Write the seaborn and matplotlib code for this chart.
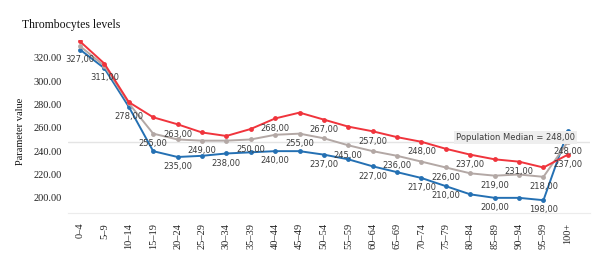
import pandas as pd
import matplotlib
matplotlib.use("Agg")
import matplotlib.pyplot as plt
import seaborn as sns

age_groups = ["0–4", "5–9", "10–14", "15–19", "20–24", "25–29", "30–34", "35–39",
              "40–44", "45–49", "50–54", "55–59", "60–64", "65–69", "70–74", "75–79",
              "80–84", "85–89", "90–94", "95–99", "100+"]

blue_values = [327, 311, 278, 240, 235, 236, 238, 239, 240, 240, 237,
               233, 227, 222, 217, 210, 203, 200, 200, 198, 257]
gray_values = [330, 313, 281, 255, 250, 249, 249, 250, 254, 255, 251,
               245, 240, 236, 231, 226, 221, 219, 220, 218, 248]
red_values = [334, 315, 282, 269, 263, 256, 253, 259, 268, 273, 267,
              261, 257, 252, 248, 242, 237, 233, 231, 226, 237]

# which points carry a value label (index into age_groups)
blue_labelled = [0, 1, 2, 4, 6, 8, 10, 12, 14, 15, 17, 19]
gray_labelled = [3, 5, 7, 9, 11, 13, 15, 17, 19, 20]
red_labelled = [4, 8, 10, 12, 14, 16, 18, 20]

median_value = 248

series_names = ["blue", "gray", "red"]
palette = {"blue": "#2470b3", "gray": "#b3a8a5", "red": "#f0343c"}

frames = []
for name, vals in zip(series_names, [blue_values, gray_values, red_values]):
    frames.append(pd.DataFrame({"age": age_groups, "value": vals, "series": name}))
df = pd.concat(frames, ignore_index=True)

sns.set_style("white")
serif = ["Liberation Serif", "DejaVu Serif"]

fig = plt.figure(figsize=(6, 2.63), dpi=100)
ax = fig.add_axes([0.113, 0.19, 0.87, 0.657])

ax.axhline(median_value, color="#e4e4e4", lw=1, zorder=0)

sns.lineplot(data=df, x="age", y="value", hue="series", palette=palette,
             marker="o", markersize=3.5, markeredgewidth=0, linewidth=1.4,
             sort=False, legend=False, ax=ax)

label_sets = [(blue_values, blue_labelled), (gray_values, gray_labelled),
              (red_values, red_labelled)]
for vals, idxs in label_sets:
    for i in idxs:
        ax.annotate(f"{vals[i]:.2f}".replace(".", ","), (i, vals[i]),
                    xytext=(0, -7), textcoords="offset points",
                    ha="center", va="center", fontsize=6, color="#3c3c3c")

ax.text(20.3, 251.6, f"Population Median = {median_value:.2f}".replace(".", ","),
        ha="right", va="center", fontsize=6, color="#3c3c3c",
        bbox=dict(facecolor="#eeeeee", edgecolor="none", pad=1.2))

ax.set_xlim(-0.5, 20.9)
ax.set_ylim(187, 335)
ax.set_yticks([200, 220, 240, 260, 280, 300, 320])
ax.set_yticklabels([f"{v:.2f}" for v in [200, 220, 240, 260, 280, 300, 320]],
                   fontfamily=serif, fontsize=7.5, color="#222222")
ax.set_xticks(range(len(age_groups)))
ax.set_xticklabels(age_groups, rotation=90, fontfamily=serif, fontsize=7.5,
                   color="#222222")
ax.tick_params(axis="y", length=0, pad=4)
ax.tick_params(axis="x", length=2, color="#e8e8e8", pad=5)
ax.set_xlabel("")
ax.set_ylabel("")

for side in ["top", "right", "left"]:
    ax.spines[side].set_visible(False)
ax.spines["bottom"].set_color("#ececec")

fig.text(0.037, 0.905, "Thrombocytes levels", fontfamily=serif, fontsize=8.5,
         color="#111111", va="center")
fig.text(0.034, 0.5, "Parameter value", fontfamily=serif, fontsize=7.5,
         rotation=90, ha="center", va="center", color="#111111")

fig.savefig("out.png", dpi=100)
